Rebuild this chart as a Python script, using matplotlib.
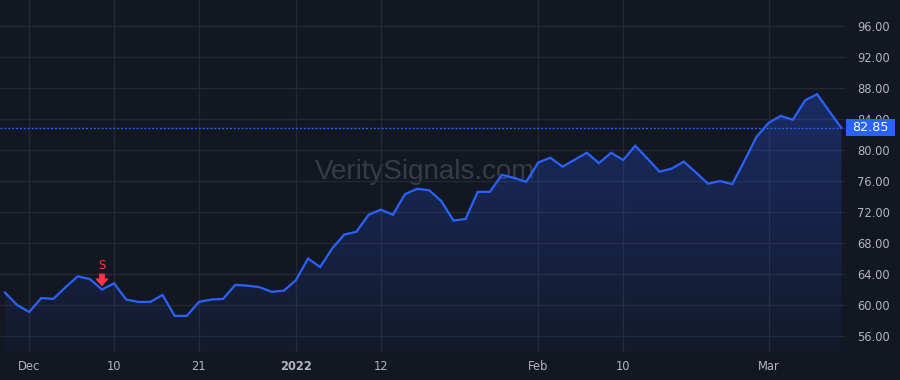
import numpy as np
import pandas as pd
import matplotlib
matplotlib.use("Agg")
import matplotlib.pyplot as plt
import matplotlib.transforms as mtransforms
from matplotlib.patches import Rectangle
from matplotlib.colors import LinearSegmentedColormap

# Trading days from Nov 29 2021 to Mar 9 2022 (US market holidays removed)
holidays = ["2021-12-24", "2022-01-17", "2022-02-21"]
dates = pd.bdate_range("2021-11-29", "2022-03-09", freq="C", holidays=holidays)

# Closing prices
prices = [
    61.6, 60.0, 59.1, 60.9, 60.8, 62.3, 63.7, 63.35, 62.0, 62.8,
    60.7, 60.4, 60.4, 61.3, 58.6, 58.6, 60.4, 60.7, 60.8, 62.6,
    62.5, 62.3, 61.7, 61.85, 63.2, 66.0, 64.9, 67.3, 69.1, 69.45,
    71.65, 72.3, 71.65, 74.3, 75.0, 74.8, 73.4, 70.9, 71.1, 74.6,
    74.6, 76.8, 76.4, 75.9, 78.4, 79.0, 77.85, 78.75, 79.65, 78.3,
    79.65, 78.7, 80.55, 78.9, 77.2, 77.6, 78.5, 77.1, 75.65, 76.0,
    75.6, 78.6, 81.7, 83.5, 84.4, 83.9, 86.4, 87.2, 85.0, 82.85,
]
last_price = 82.85

tick_dates = ["2021-12-01", "2021-12-10", "2021-12-21", "2022-01-03",
              "2022-01-12", "2022-02-01", "2022-02-10", "2022-03-01"]
tick_labels = ["Dec", "10", "21", "2022", "12", "Feb", "10", "Mar"]
y_ticks = [56, 60, 64, 68, 72, 76, 80, 84, 88, 92, 96]

signal_date = "2021-12-09"
signal_label = "S"

bg = "#131722"
grid_c = "#252833"
blue = "#2962ff"
red = "#f23645"
text_c = "#b2b5be"

x = np.arange(len(prices))
y = np.array(prices)

fig = plt.figure(figsize=(9, 3.8), dpi=100, facecolor=bg)
ax = fig.add_axes([0, 28 / 380, 845 / 900, 352 / 380], facecolor=bg)

ax.set_xlim(-0.41, 69.3)
ax.set_ylim(53.94, 99.35)

# gradient fill under the line
ymin, ymax = ax.get_ylim()
cmap = LinearSegmentedColormap.from_list(
    "fill", [(0.16, 0.38, 1.0, 0.04), (0.16, 0.38, 1.0, 0.30)])
grad = np.linspace(0, 1, 256).reshape(-1, 1)
img = ax.imshow(grad, cmap=cmap, aspect="auto", origin="lower",
                extent=[x[0], x[-1], ymin, y.max()], zorder=1)
poly = ax.fill_between(x, y, ymin, color="none", lw=0)
img.set_clip_path(poly.get_paths()[0], transform=ax.transData)
ax.set_xlim(-0.41, 69.3)
ax.set_ylim(ymin, ymax)

ax.plot(x, y, color=blue, lw=1.6, zorder=3, solid_joinstyle="miter")

# last price line + label box on the price scale
ax.axhline(last_price, color=blue, lw=1, linestyle=(0, (1.4, 1.4)), zorder=2)
blend = mtransforms.blended_transform_factory(ax.transAxes, ax.transData)
ax.add_patch(Rectangle((1.001, last_price - 1.1), 0.058, 2.2, transform=blend,
                       facecolor=blue, edgecolor="none", clip_on=False, zorder=9))
ax.text(1.030, last_price, f"{last_price:.2f}", transform=blend, ha="center",
        va="center", color="white", fontsize=9.2, clip_on=False, zorder=10)

# sell signal
date_idx = list(dates.strftime("%Y-%m-%d"))
si = date_idx.index(signal_date)
ax.annotate("", xy=(si, prices[si]), xytext=(0, 11), textcoords="offset points",
            arrowprops=dict(arrowstyle="simple,head_width=0.8,head_length=0.45,tail_width=0.32",
                            color=red, shrinkA=0, shrinkB=3), zorder=5)
ax.annotate(signal_label, xy=(si, prices[si]), xytext=(0, 17), textcoords="offset points",
            ha="center", va="center", color=red, fontsize=8.5, zorder=5)

# watermark
ax.text(0.503, 0.512, "VeritySignals.com", transform=ax.transAxes, ha="center",
        va="center", fontsize=20, color="#373b46", family="Liberation Sans", zorder=0.5)

# axes styling
ax.set_xticks([date_idx.index(d) for d in tick_dates])
ax.set_xticklabels(tick_labels)
for lbl in ax.get_xticklabels():
    if lbl.get_text() == "2022":
        lbl.set_fontweight("bold")
ax.set_yticks(y_ticks)
ax.set_yticklabels([f"{v:.2f}" for v in y_ticks])
ax.yaxis.tick_right()
ax.tick_params(axis="both", length=0, colors=text_c, labelsize=8.3)
ax.tick_params(axis="x", pad=6)
ax.tick_params(axis="y", pad=9)
ax.grid(True, color=grid_c, lw=1)
ax.set_axisbelow(True)
for s in ax.spines.values():
    s.set_visible(False)

fig.savefig("out.png", dpi=100, facecolor=bg)
